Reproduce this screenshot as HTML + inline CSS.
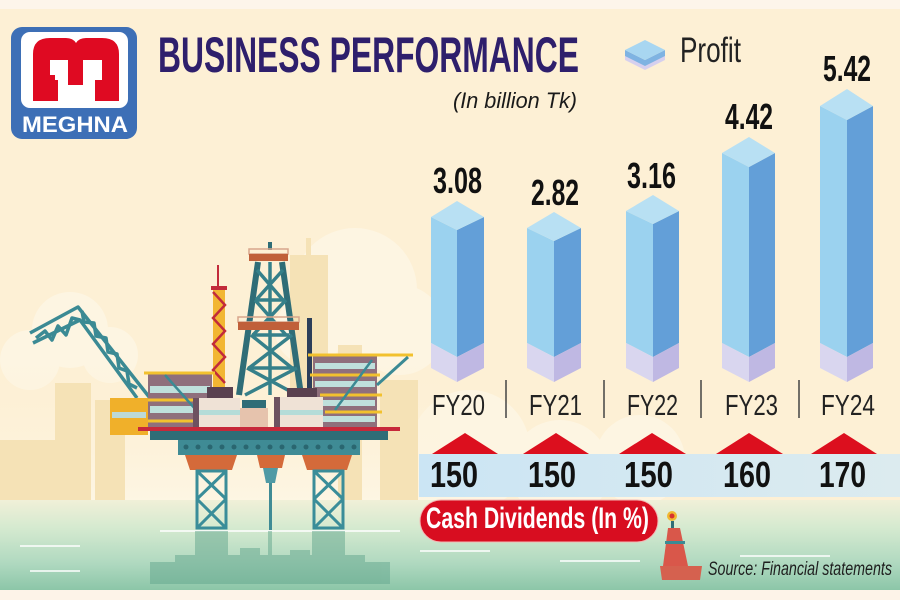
<!DOCTYPE html>
<html><head><meta charset="utf-8"><style>
html,body{margin:0;padding:0;background:#fdf0d5;}
svg{display:block;}
</style></head><body>
<svg width="900" height="600" viewBox="0 0 900 600" xmlns="http://www.w3.org/2000/svg" font-family="'Liberation Sans', sans-serif">
<defs>
<linearGradient id="sea" x1="0" y1="0" x2="0" y2="1">
<stop offset="0" stop-color="#f1f0d8"/>
<stop offset="0.3" stop-color="#d6ead0"/>
<stop offset="0.7" stop-color="#b0d9c0"/>
<stop offset="1" stop-color="#8cc6a8"/>
</linearGradient>
<linearGradient id="band" x1="0" y1="0" x2="1" y2="0">
<stop offset="0" stop-color="#cbe5f4"/>
<stop offset="1" stop-color="#dcebef"/>
</linearGradient>
<linearGradient id="haze" x1="0" y1="0" x2="0" y2="1">
<stop offset="0" stop-color="#fdf0d5" stop-opacity="0"/>
<stop offset="1" stop-color="#fdf6e4"/>
</linearGradient>
</defs>
<rect x="0" y="0" width="900" height="600" fill="#fdf0d5"/>
<rect x="0" y="0" width="900" height="9" fill="#fdf5ea"/>

<!-- clouds & city -->
<g fill="#fdf5e2">
<circle cx="70" cy="330" r="38"/><circle cx="110" cy="355" r="28"/><circle cx="30" cy="360" r="30"/>
<circle cx="355" cy="290" r="62"/><circle cx="400" cy="330" r="45"/><circle cx="310" cy="330" r="35"/>
<circle cx="470" cy="450" r="60"/><circle cx="560" cy="470" r="50"/><circle cx="640" cy="460" r="45"/>
</g>
<rect x="0" y="360" width="440" height="145" fill="url(#haze)"/>
<g fill="#f5e2b6">
<rect x="55" y="383" width="36" height="120"/>
<rect x="95" y="400" width="30" height="103"/>
<rect x="290" y="255" width="38" height="140"/><rect x="306" y="238" width="5" height="20"/>
<rect x="338" y="345" width="24" height="160"/>
<rect x="380" y="380" width="38" height="125"/>
<rect x="0" y="440" width="55" height="65"/>
</g>

<!-- sea -->
<rect x="0" y="500" width="900" height="90" fill="url(#sea)"/>
<rect x="0" y="590" width="900" height="10" fill="#fdf3e8"/>
<g fill="#fff" opacity="0.75">
<rect x="160" y="530" width="240" height="2"/><rect x="20" y="545" width="60" height="2"/>
<rect x="420" y="550" width="70" height="2"/><rect x="560" y="560" width="80" height="2"/>
<rect x="740" y="555" width="90" height="2"/><rect x="30" y="570" width="50" height="2"/>
</g>
<!-- reflection -->
<g fill="#62a68d" opacity="0.5">
<rect x="150" y="562" width="240" height="22"/>
<rect x="195" y="531" width="33" height="40"/><rect x="312" y="531" width="33" height="40"/>
<rect x="268" y="531" width="4" height="32"/><rect x="240" y="548" width="20" height="14"/><rect x="290" y="550" width="20" height="12"/>
<rect x="175" y="555" width="190" height="8"/>
</g>

<!-- crane -->
<g stroke="#3b8a94" stroke-width="3.5" fill="none" stroke-linejoin="round">
<polyline points="30,333 78,307 150,398"/>
<polyline points="33,343 80,320 137,398"/>
<path d="M36,338 L45,331 L52,340 L58,326 L66,335 L72,318 L80,320 M82,311 L84,322 L94,323 L96,336 L106,338 L108,352 L117,354 L119,368 L127,371 L129,384 L137,388"/>
</g>

<!-- derrick -->
<g stroke="#2f6d77" stroke-width="6" fill="none">
<line x1="258" y1="262" x2="239" y2="395"/>
<line x1="282" y1="262" x2="301" y2="395"/>
</g>
<g stroke="#36808a" stroke-width="3.5" fill="none">
<path d="M257,270 L283,300 M283,270 L256,300 M255,300 L286,335 M286,300 L253,335 M251,335 L292,368 M292,335 L249,368 M247,368 L297,395 M297,368 L245,395"/>
<path d="M256,300 L285,300 M252,335 L289,335 M248,368 L294,368"/>
<line x1="270" y1="262" x2="270" y2="395"/>
</g>
<rect x="268" y="242" width="4" height="8" fill="#2f6d77"/>
<rect x="249" y="249" width="39" height="5" fill="none" stroke="#d8a68c" stroke-width="1.5"/>
<rect x="249" y="254" width="39" height="7" fill="#c0603a"/>
<rect x="238" y="317" width="61" height="5" fill="none" stroke="#d8a68c" stroke-width="1.5"/>
<rect x="238" y="322" width="61" height="8" fill="#c0603a"/>

<!-- red/yellow mast -->
<line x1="218" y1="265" x2="218" y2="288" stroke="#c22b3b" stroke-width="2"/>
<rect x="211" y="286" width="16" height="4" fill="#c22b3b"/>
<rect x="213" y="290" width="12" height="98" fill="#f2b632"/>
<polyline points="213,292 225,305 213,318 225,331 213,344 225,357 213,370 225,383" fill="none" stroke="#c22b3b" stroke-width="2.5"/>
<!-- stack -->
<rect x="307" y="318" width="5" height="70" fill="#2b3e5a"/>

<!-- left module -->
<rect x="148" y="373" width="64" height="54" fill="#8f6f7c"/>
<rect x="150" y="386" width="60" height="7" fill="#bfe0dc"/>
<rect x="150" y="406" width="60" height="7" fill="#bfe0dc"/>
<g stroke="#f2c12e" stroke-width="3"><line x1="144" y1="373" x2="215" y2="373"/><line x1="144" y1="400" x2="215" y2="400"/><line x1="144" y1="421" x2="215" y2="421"/></g>
<line x1="165" y1="375" x2="205" y2="420" stroke="#3b8a94" stroke-width="2.5"/>
<!-- right module -->
<rect x="313" y="355" width="64" height="72" fill="#8f6f7c"/>
<rect x="315" y="363" width="60" height="6" fill="#bfe0dc"/>
<rect x="315" y="381" width="60" height="6" fill="#bfe0dc"/>
<rect x="315" y="400" width="60" height="6" fill="#bfe0dc"/>
<rect x="315" y="416" width="60" height="6" fill="#bfe0dc"/>
<g stroke="#f2c12e" stroke-width="3"><line x1="308" y1="355" x2="413" y2="355"/><line x1="310" y1="375" x2="380" y2="375"/><line x1="320" y1="395" x2="382" y2="395"/><line x1="325" y1="412" x2="382" y2="412"/></g>
<line x1="408" y1="357" x2="377" y2="385" stroke="#3b8a94" stroke-width="3"/>
<line x1="372" y1="360" x2="335" y2="410" stroke="#3b8a94" stroke-width="2.5"/>
<!-- yellow box -->
<rect x="110" y="398" width="38" height="37" fill="#f0b02a"/>
<rect x="112" y="412" width="34" height="6" fill="#bcd9d8"/>
<!-- white boxes -->
<rect x="207" y="387" width="26" height="11" fill="#5a4150"/>
<rect x="287" y="388" width="30" height="10" fill="#5a4150"/>
<rect x="199" y="398" width="41" height="29" fill="#efe2d6"/>
<rect x="199" y="410" width="41" height="5" fill="#b5dcd8"/>
<rect x="280" y="397" width="43" height="30" fill="#efe2d6"/>
<rect x="280" y="410" width="43" height="5" fill="#b5dcd8"/>
<rect x="193" y="398" width="6" height="29" fill="#6d5260"/>
<rect x="274" y="397" width="6" height="30" fill="#6d5260"/>
<rect x="240" y="408" width="28" height="19" fill="#e6c3ad"/>
<rect x="242" y="400" width="24" height="8" fill="#2f6d77"/>

<!-- platform -->
<rect x="138" y="427" width="262" height="4" fill="#c7283a"/>
<rect x="150" y="431" width="238" height="9" fill="#2f6d77"/>
<rect x="178" y="440" width="182" height="15" fill="#3f8b95"/>
<g fill="#2a6670">
<circle cx="186" cy="447" r="2.5"/><circle cx="198" cy="447" r="2.5"/><circle cx="210" cy="447" r="2.5"/><circle cx="222" cy="447" r="2.5"/><circle cx="234" cy="447" r="2.5"/><circle cx="246" cy="447" r="2.5"/><circle cx="258" cy="447" r="2.5"/><circle cx="270" cy="447" r="2.5"/><circle cx="282" cy="447" r="2.5"/><circle cx="294" cy="447" r="2.5"/><circle cx="306" cy="447" r="2.5"/><circle cx="318" cy="447" r="2.5"/><circle cx="330" cy="447" r="2.5"/><circle cx="342" cy="447" r="2.5"/><circle cx="354" cy="447" r="2.5"/>
</g>
<polygon points="185,455 237,455 232,470 190,470" fill="#d46a3a"/>
<polygon points="257,455 285,455 282,468 260,468" fill="#d46a3a"/>
<polygon points="302,455 352,455 347,470 307,470" fill="#d46a3a"/>
<polygon points="263,468 278,468 275,483 266,483" fill="#4f9aa5"/>
<rect x="269" y="483" width="3" height="47" fill="#3f8b95"/>
<g stroke="#3a8d99" stroke-width="3" fill="none">
<rect x="197" y="471" width="29" height="57"/>
<path d="M197,471 L226,499 M226,471 L197,499 M197,499 L226,528 M226,499 L197,528"/>
<rect x="314" y="471" width="29" height="57"/>
<path d="M314,471 L343,499 M343,471 L314,499 M314,499 L343,528 M343,499 L314,528"/>
</g>

<!-- logo -->
<rect x="11" y="27" width="126" height="112" rx="11" fill="#3d6fb6"/>
<rect x="21" y="32" width="107" height="76" rx="9" fill="#ffffff"/>
<path d="M33,101 L33,54 Q33,38 50,38 L66,38 Q73,38 76,43 Q79,38 86,38 L102,38 Q119,38 119,54 L119,101 Z" fill="#df0a22"/>
<rect x="50" y="60" width="52" height="20" fill="#fff"/>
<rect x="58" y="78" width="37" height="23" fill="#fff"/>
<rect x="68" y="52" width="15" height="33" fill="#df0a22"/>
<rect x="50" y="75" width="5" height="8" fill="#df0a22"/>
<text x="22" y="132" font-size="22" font-weight="bold" fill="#fff" textLength="106" lengthAdjust="spacingAndGlyphs">MEGHNA</text>

<!-- title -->
<text x="158" y="72" font-size="50" font-weight="bold" fill="#2e1f6c" textLength="421" lengthAdjust="spacingAndGlyphs">BUSINESS PERFORMANCE</text>
<text x="453" y="108" font-size="22" font-style="italic" fill="#1a1a1a" textLength="124" lengthAdjust="spacingAndGlyphs">(In billion Tk)</text>

<!-- legend -->
<polygon points="625,54 645,64 665,54 665,60 645,70 625,60" fill="#d6d0ee"/>
<polygon points="625,50 645,60 665,50 665,56 645,66 625,56" fill="#7fb3e2"/>
<polygon points="645,40 625,50 645,60 665,50" fill="#a8d6f1"/>
<text x="680" y="62" font-size="35" fill="#222" textLength="61" lengthAdjust="spacingAndGlyphs">Profit</text>

<!-- bars -->
<g>
<polygon points="431,217 457,230 457,357 431,343" fill="#9bd2ef"/>
<polygon points="457,230 484,217 484,343 457,357" fill="#639fd8"/>
<polygon points="431,343 457,357 457,382 431,368" fill="#d9d6ef"/>
<polygon points="457,357 484,343 484,368 457,382" fill="#bfb8e3"/>
<polygon points="457,201 431,217 457,230 484,217" fill="#b8e0f3"/>

<polygon points="527,228 554,241 554,357 527,343" fill="#9bd2ef"/>
<polygon points="554,241 581,228 581,343 554,357" fill="#639fd8"/>
<polygon points="527,343 554,357 554,382 527,368" fill="#d9d6ef"/>
<polygon points="554,357 581,343 581,368 554,382" fill="#bfb8e3"/>
<polygon points="554,212 527,228 554,241 581,228" fill="#b8e0f3"/>

<polygon points="626,211 653,224 653,357 626,343" fill="#9bd2ef"/>
<polygon points="653,224 679,211 679,343 653,357" fill="#639fd8"/>
<polygon points="626,343 653,357 653,382 626,368" fill="#d9d6ef"/>
<polygon points="653,357 679,343 679,368 653,382" fill="#bfb8e3"/>
<polygon points="653,195 626,211 653,224 679,211" fill="#b8e0f3"/>

<polygon points="722,153 749,167 749,357 722,343" fill="#9bd2ef"/>
<polygon points="749,167 775,153 775,343 749,357" fill="#639fd8"/>
<polygon points="722,343 749,357 749,382 722,368" fill="#d9d6ef"/>
<polygon points="749,357 775,343 775,368 749,382" fill="#bfb8e3"/>
<polygon points="749,137 722,153 749,167 775,153" fill="#b8e0f3"/>

<polygon points="820,106 847,120 847,357 820,343" fill="#9bd2ef"/>
<polygon points="847,120 873,106 873,343 847,357" fill="#639fd8"/>
<polygon points="820,343 847,357 847,382 820,368" fill="#d9d6ef"/>
<polygon points="847,357 873,343 873,368 847,382" fill="#bfb8e3"/>
<polygon points="847,89 820,106 847,120 873,106" fill="#b8e0f3"/>
</g>

<!-- values -->
<g font-size="36" font-weight="bold" fill="#111">
<text x="433" y="193" textLength="49" lengthAdjust="spacingAndGlyphs">3.08</text>
<text x="531" y="205" textLength="48" lengthAdjust="spacingAndGlyphs">2.82</text>
<text x="627" y="188" textLength="49" lengthAdjust="spacingAndGlyphs">3.16</text>
<text x="725" y="129" textLength="48" lengthAdjust="spacingAndGlyphs">4.42</text>
<text x="823" y="81" textLength="48" lengthAdjust="spacingAndGlyphs">5.42</text>
</g>

<!-- FY labels -->
<g font-size="29" fill="#222">
<text x="432" y="415" textLength="53" lengthAdjust="spacingAndGlyphs">FY20</text>
<text x="529" y="415" textLength="53" lengthAdjust="spacingAndGlyphs">FY21</text>
<text x="627" y="415" textLength="51" lengthAdjust="spacingAndGlyphs">FY22</text>
<text x="725" y="415" textLength="53" lengthAdjust="spacingAndGlyphs">FY23</text>
<text x="821" y="415" textLength="54" lengthAdjust="spacingAndGlyphs">FY24</text>
</g>
<g stroke="#444" stroke-width="1.5">
<line x1="506" y1="380" x2="506" y2="418"/><line x1="604" y1="380" x2="604" y2="418"/>
<line x1="701" y1="380" x2="701" y2="418"/><line x1="799" y1="380" x2="799" y2="418"/>
</g>

<!-- dividends -->
<g fill="#dc0f1e">
<polygon points="465,433 432,454 498,454"/>
<polygon points="556,433 523,454 589,454"/>
<polygon points="652,433 619,454 686,454"/>
<polygon points="749,433 716,454 783,454"/>
<polygon points="844,433 811,454 877,454"/>
</g>
<rect x="419" y="454" width="481" height="43" fill="url(#band)"/>
<g font-size="36" font-weight="bold" fill="#111">
<text x="430" y="487" textLength="48" lengthAdjust="spacingAndGlyphs">150</text>
<text x="528" y="487" textLength="48" lengthAdjust="spacingAndGlyphs">150</text>
<text x="624" y="487" textLength="49" lengthAdjust="spacingAndGlyphs">150</text>
<text x="723" y="487" textLength="48" lengthAdjust="spacingAndGlyphs">160</text>
<text x="819" y="487" textLength="47" lengthAdjust="spacingAndGlyphs">170</text>
</g>
<rect x="420" y="500" width="238" height="42" rx="21" fill="#d80d20" stroke="#f4b7b4" stroke-width="1"/>
<text x="426" y="528" font-size="30" font-weight="bold" fill="#fff" textLength="223" lengthAdjust="spacingAndGlyphs">Cash Dividends (In %)</text>

<!-- buoy -->
<circle cx="672" cy="516" r="5" fill="#f0b830"/><circle cx="672" cy="516" r="2.5" fill="#d8322c"/>
<rect x="671" y="521" width="3" height="8" fill="#2f6d77"/>
<polygon points="668,528 680,528 688,566 663,566" fill="#d9574a"/>
<rect x="665" y="541" width="20" height="3" fill="#3b8a94"/>
<polygon points="660,566 702,566 700,580 662,580" fill="#d5614f"/>

<text x="708" y="575" font-size="19" font-style="italic" fill="#1e1e1e" textLength="184" lengthAdjust="spacingAndGlyphs">Source: Financial statements</text>
</svg>
</body></html>
